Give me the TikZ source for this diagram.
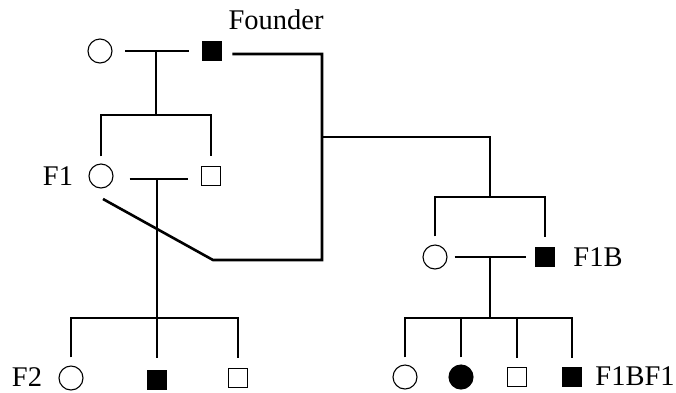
\documentclass[tikz,border=0pt]{standalone}
\usepackage{fontspec}
\setmainfont{Liberation Serif}
\begin{document}
\begin{tikzpicture}[x=1pt,y=-1pt,
 ln/.style={line width=2.6pt},
 fem/.style={circle,draw,line width=1.1pt,minimum size=24pt,inner sep=0pt},
 femA/.style={fem,fill=black},
 mal/.style={rectangle,draw,line width=1.1pt,minimum size=19.5pt,inner sep=0pt},
 malA/.style={mal,fill=black},
 lbl/.style={font=\fontsize{28.5}{31}\selectfont,inner sep=0pt}]
\useasboundingbox (0,0) rectangle (676,392);
% founders
\node[fem] (fm) at (100,51) {};
\node[malA] (fd) at (212,51) {};
\node[lbl] (lf) at (276,20) {Founder};
% F1
\node[fem] (f1f) at (101,176) {};
\node[mal] (f1m) at (211,176) {};
\node[lbl] (l1) at (58,176) {F1};
% F1B
\node[fem] (bf) at (435,257) {};
\node[malA] (bm) at (545,257) {};
\node[lbl] (lb) at (598,257) {F1B};
% F2
\node[fem] (f2a) at (71,378) {};
\node[malA] (f2b) at (157,380) {};
\node[mal] (f2c) at (238,378) {};
\node[lbl] (l2) at (27,377) {F2};
% F1BF1
\node[fem] (ca) at (405,377) {};
\node[femA] (cb) at (461,377) {};
\node[mal] (cc) at (517,377) {};
\node[malA] (cd) at (572,377) {};
\node[lbl] (lc) at (635,376) {F1BF1};
% junctions
\coordinate (m1) at (156,52);
\coordinate (s1) at (156,115);
\coordinate (c1) at (322,54);
\coordinate (c2) at (322,260);
\coordinate (c3) at (213,260);
\coordinate (c4) at (103,199);
\coordinate (b1) at (322,137);
\coordinate (s2) at (490,197);
\coordinate (m3) at (490,257);
\coordinate (s3) at (490,318);
\coordinate (m2) at (157,180);
\coordinate (s4) at (157,318);
% top generation
\draw[ln] ([xshift=12.5pt]fm.east) -- ([xshift=-13pt]fd.west);
\draw[ln] (m1) -- (s1);
\draw[ln] ([yshift=7pt]f1f.north) |- (s1) -| ([yshift=9.5pt]f1m.north);
\draw[ln] ([xshift=10pt]fd.east |- c1) -- (c1) -- (c2) -- (c3) -- (c4);
\draw[ln] (b1) -| (s2);
\draw[ln] ([yshift=8pt]bf.north) |- (s2) -| ([yshift=10pt]bm.north);
% F1B family
\draw[ln] ([xshift=7pt]bf.east) -- ([xshift=-9pt]bm.west);
\draw[ln] (m3) -- (s3);
\draw[ln] ([yshift=7pt]ca.north) |- (s3) -| ([yshift=9pt]cd.north);
\draw[ln] ([yshift=7pt]cb.north) -- (cb.north |- s3);
\draw[ln] ([yshift=9pt]cc.north) -- (cc.north |- s3);
% F1 family
\draw[ln] ([shift={(16pt,-3pt)}]f1f.east) -- ([shift={(-12.5pt,-3pt)}]f1m.west);
\draw[ln] (m2) -- (s4);
\draw[ln] ([yshift=8pt]f2a.north) |- (s4) -| ([yshift=10pt]f2c.north);
\draw[ln] ([yshift=12pt]f2b.north) -- (s4);
\end{tikzpicture}
\end{document}
